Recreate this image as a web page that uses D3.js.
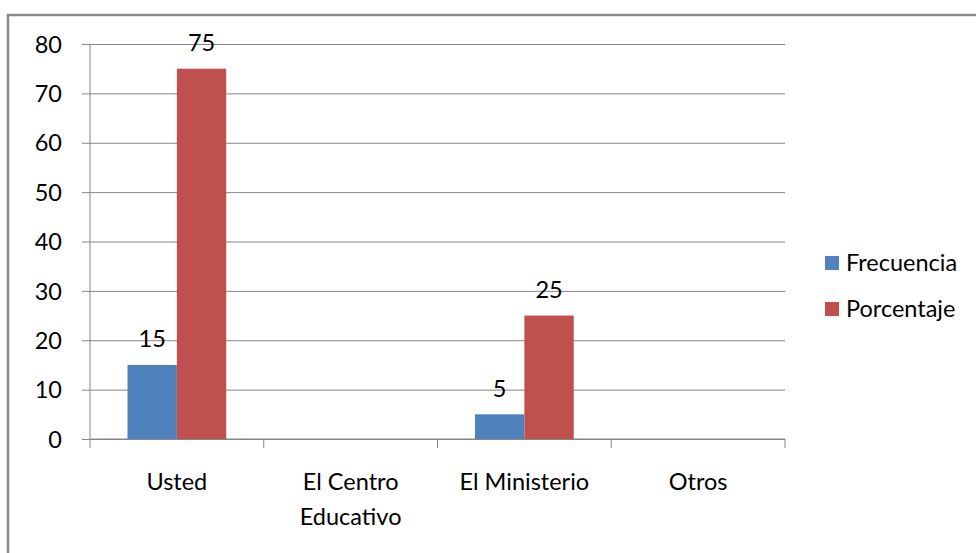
<!DOCTYPE html>
<html>
<head>
<meta charset="utf-8">
<script src="https://cdn.jsdelivr.net/npm/d3@7"></script>
<style>
  body { margin: 0; background: #fff; }
  svg text { font-family: Lato, "Liberation Sans", sans-serif; fill: #000; }
</style>
</head>
<body>
<svg id="chart" width="976" height="553"></svg>
<script>
// chart data
var categories = ['Usted', 'El Centro Educativo', 'El Ministerio', 'Otros'];
var categoryLines = [['Usted'], ['El Centro', 'Educativo'], ['El Ministerio'], ['Otros']];
var seriesNames = ['Frecuencia', 'Porcentaje'];
var frecuencia = [15, 0, 5, 0];
var porcentaje = [75, 0, 25, 0];
var yTicks = [0, 10, 20, 30, 40, 50, 60, 70, 80];
var colors = ['#4f81bd', '#c0504d'];

var fontSize = 23.5;
var svg = d3.select('#chart');

// outer frame (runs off the right and bottom edges)
svg.append('rect')
	.attr('x', 8).attr('y', 15)
	.attr('width', 1000).attr('height', 600)
	.attr('fill', 'none')
	.attr('stroke', '#8c8c8c')
	.attr('stroke-width', 2.5);

var plot = {left: 90, right: 785, top: 44, bottom: 439};

var x = d3.scaleBand().domain(categories).range([plot.left, plot.right]);
var xs = d3.scaleBand().domain(seriesNames).range([0, x.bandwidth()]).paddingOuter(0.76);
var y = d3.scaleLinear().domain([0, 80]).range([plot.bottom, plot.top]);

// gridlines + y axis
var yAxis = d3.axisLeft(y).tickValues(yTicks).tickSize(-(plot.right - plot.left)).tickPadding(28).tickFormat(d3.format('d'));
var gy = svg.append('g').attr('transform', 'translate(' + plot.left + ',0)').call(yAxis);
gy.select('.domain').remove();
gy.selectAll('.tick line').attr('stroke', '#868686').attr('x1', -8);
gy.selectAll('.tick text').attr('font-size', fontSize).attr('dy', '0.35em');
svg.append('line')
	.attr('x1', plot.left).attr('x2', plot.left)
	.attr('y1', plot.top).attr('y2', plot.bottom)
	.attr('stroke', '#868686');

// x axis with boundary ticks
svg.append('line')
	.attr('x1', plot.left).attr('x2', plot.right)
	.attr('y1', plot.bottom).attr('y2', plot.bottom)
	.attr('stroke', '#868686');
var bounds = categories.map(function(c){ return x(c); }).concat([plot.right]);
svg.selectAll('line.xtick').data(bounds).enter().append('line')
	.attr('class', 'xtick')
	.attr('x1', function(d){ return d; }).attr('x2', function(d){ return d; })
	.attr('y1', plot.bottom).attr('y2', plot.bottom + 9)
	.attr('stroke', '#868686');

// category labels
var cl = svg.selectAll('text.cat').data(categories).enter().append('text')
	.attr('class', 'cat')
	.attr('text-anchor', 'middle')
	.attr('font-size', fontSize)
	.attr('x', function(d){ return x(d) + x.bandwidth() / 2; })
	.attr('y', 490);
cl.each(function(d, i){
	var t = d3.select(this);
	categoryLines[i].forEach(function(line, j){
		t.append('tspan').attr('x', x(d) + x.bandwidth() / 2).attr('dy', j == 0 ? 0 : 35).text(line);
	});
});

// bars
var series = [frecuencia, porcentaje];
series.forEach(function(vals, s){
	var g = svg.append('g');
	categories.forEach(function(c, i){
		if(vals[i] == 0) return;
		g.append('rect')
			.attr('x', x(c) + xs(seriesNames[s]))
			.attr('y', y(vals[i]))
			.attr('width', xs.bandwidth())
			.attr('height', y(0) - y(vals[i]))
			.attr('fill', colors[s]);
		g.append('text')
			.attr('text-anchor', 'middle')
			.attr('font-size', fontSize)
			.attr('x', x(c) + xs(seriesNames[s]) + xs.bandwidth() / 2)
			.attr('y', y(vals[i]) - 26)
			.attr('dy', '0.35em')
			.text(vals[i]);
	});
});

// legend
var legend = svg.append('g').attr('transform', 'translate(825,256)');
seriesNames.forEach(function(name, i){
	var row = legend.append('g').attr('transform', 'translate(0,' + (i * 46) + ')');
	row.append('rect').attr('width', 14).attr('height', 14).attr('fill', colors[i]);
	row.append('text').attr('x', 21).attr('y', 7).attr('dy', '0.35em').attr('font-size', fontSize).text(name);
});
</script>
</body>
</html>
